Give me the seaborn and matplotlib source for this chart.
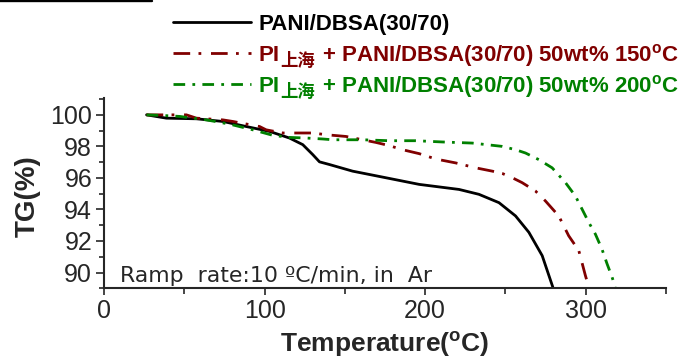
import matplotlib
matplotlib.use("Agg")
import matplotlib.pyplot as plt
from matplotlib.lines import Line2D
from matplotlib.ticker import MultipleLocator
from matplotlib.font_manager import FontProperties
import seaborn as sns
import pandas as pd

# ---- data ----
black_T = [26.5, 38.9, 57.6, 74.1, 88.6, 103.1, 115.5, 123.8, 130.0, 134.2, 140.4,
           154.8, 175.6, 196.3, 221.1, 233.5, 246.0, 256.3, 264.6, 272.9, 279.5]
black_TG = [100.0, 99.79, 99.75, 99.58, 99.26, 98.95, 98.53, 98.11, 97.48, 97.02, 96.85,
            96.43, 96.01, 95.59, 95.27, 94.96, 94.43, 93.59, 92.55, 91.07, 89.08]

red_T = [26.5, 51.3, 57.6, 74.1, 80.3, 96.9, 101.0, 111.4, 117.6, 130.0, 138.3, 150.7,
         169.4, 177.6, 185.9, 196.3, 206.6, 219.1, 231.5, 241.8, 248.1, 254.3, 260.4,
         268.7, 274.9, 283.2, 289.4, 295.7, 299.8, 301.9]
red_TG = [100.0, 100.0, 99.79, 99.68, 99.58, 99.26, 99.05, 98.85, 98.85, 98.85, 98.74, 98.63,
          98.25, 98.05, 97.79, 97.54, 97.2, 96.95, 96.64, 96.43, 96.28, 96.01, 95.7,
          95.17, 94.54, 93.59, 92.33, 91.39, 89.81, 89.08]

green_T = [26.5, 36.8, 47.2, 63.8, 78.3, 92.7, 105.2, 115.5, 125.9, 136.2, 142.4, 161.0,
           177.6, 194.2, 210.8, 229.4, 248.0, 256.3, 262.5, 270.8, 279.1, 287.4, 293.6,
           301.9, 306.0, 310.1, 313.3, 316.4, 318.4]
green_TG = [100.0, 99.96, 99.9, 99.68, 99.41, 99.05, 98.7, 98.57, 98.53, 98.47, 98.42, 98.42,
            98.36, 98.36, 98.28, 98.21, 98.0, 97.79, 97.58, 97.16, 96.64, 95.7, 94.85,
            93.18, 92.44, 91.49, 90.55, 89.71, 89.08]

label_black = "PANI/DBSA(30/70)"
label_prefix = "PI"
label_sub = "上海"
label_red_rest = r"+ PANI/DBSA(30/70) 50wt% 150$^{\mathbf{o}}$C"
label_green_rest = r"+ PANI/DBSA(30/70) 50wt% 200$^{\mathbf{o}}$C"
x_ticks = [0, 100, 200, 300]
y_ticks = [90, 92, 94, 96, 98, 100]
note_text = "Ramp  rate:10 ºC/min, in  Ar"

# ---- style ----
sns.set_style("ticks")
plt.rcParams["font.family"] = ["Liberation Sans", "DejaVu Sans"]
plt.rcParams["mathtext.fontset"] = "custom"
plt.rcParams["mathtext.bf"] = "Liberation Sans:bold"
plt.rcParams["mathtext.rm"] = "Liberation Sans"

fig = plt.figure(figsize=(6.81, 3.60), dpi=100)
ax = fig.add_axes([104 / 681, 1 - 288.3 / 360, 562 / 681, (288.3 - 98.3) / 360])

df_b = pd.DataFrame({"T": black_T, "TG": black_TG})
df_r = pd.DataFrame({"T": red_T, "TG": red_TG})
df_g = pd.DataFrame({"T": green_T, "TG": green_TG})

black = "#000000"
red = "#800000"
green = "#008000"

sns.lineplot(data=df_b, x="T", y="TG", ax=ax, color=black, lw=2.0, sort=False,
             label=label_black)
sns.lineplot(data=df_r, x="T", y="TG", ax=ax, color=red, lw=2.0, sort=False,
             linestyle=(0, (6, 3, 1, 3.5)), label=label_prefix)
sns.lineplot(data=df_g, x="T", y="TG", ax=ax, color=green, lw=2.0, sort=False,
             linestyle=(0, (4.2, 2.6, 1, 2.6)), label=label_prefix)

ax.set_xlim(0, 350)
ax.set_ylim(89, 101.05)
ax.set_xticks(x_ticks)
ax.set_yticks(y_ticks)
ax.xaxis.set_minor_locator(MultipleLocator(50))
ax.yaxis.set_minor_locator(MultipleLocator(1))
sns.despine(ax=ax)
for s in ("left", "bottom"):
    ax.spines[s].set_linewidth(1.5)
ax.tick_params(axis="x", which="major", length=5, width=1.2, labelsize=18, pad=3)
ax.tick_params(axis="x", which="minor", length=4, width=1.2)
ax.tick_params(axis="y", which="major", length=5.5, width=1.2, labelsize=18, pad=3)
ax.tick_params(axis="y", which="minor", length=3.5, width=1.2)

ax.set_xlabel(r"Temperature($^{\mathbf{o}}$C)", fontsize=19, fontweight="bold")
ax.set_ylabel("TG(%)", fontsize=20, fontweight="bold", va="center")
ax.xaxis.set_label_coords(0.5, -0.218)
ax.yaxis.set_label_coords(-0.136, 0.486)

ax.text(0.028, 0.035, note_text, transform=ax.transAxes,
        fontsize=15.8, family="DejaVu Sans", va="baseline", ha="left")

leg_prop = FontProperties(family="Liberation Sans", weight="bold", size=16)
handles, _ = ax.get_legend_handles_labels()
leg = ax.legend(handles, [label_black, label_prefix, label_prefix],
                loc="upper left", bbox_to_anchor=(173 / 681, 1 - 14 / 360),
                bbox_transform=fig.transFigure, frameon=False, borderpad=0,
                borderaxespad=0, handlelength=3.5, handletextpad=0.33,
                labelspacing=0.45, labelcolor="linecolor", prop=leg_prop)

fig.add_artist(Line2D([0, 152 / 681], [1 - 1 / 360, 1 - 1 / 360],
                      transform=fig.transFigure, color="black", lw=1.7))

# subscript "上海" and the rest of the label after "PI" in rows 2 and 3
fig.canvas.draw()
renderer = fig.canvas.get_renderer()
_, _, lp_desc = renderer.get_text_width_height_descent("lp", leg_prop, ismath=False)
inv = fig.transFigure.inverted()
for txt, col, rest in zip(leg.get_texts()[1:], [red, green],
                          [label_red_rest, label_green_rest]):
    bb = txt.get_window_extent(renderer)
    base = bb.y0 + lp_desc
    x_sub = bb.x1 + 1
    xf, yf = inv.transform((x_sub, base - 5))
    sub = fig.text(xf, yf, label_sub, color=col, fontsize=12.5, fontweight="bold",
                   family=["Noto Sans CJK SC", "DejaVu Sans"], ha="left", va="baseline")
    sb = sub.get_window_extent(renderer)
    xf2, yf2 = inv.transform((sb.x1 + 7, base))
    fig.text(xf2, yf2, rest, color=col, fontproperties=leg_prop,
             ha="left", va="baseline")

fig.savefig("out.png", dpi=100)
